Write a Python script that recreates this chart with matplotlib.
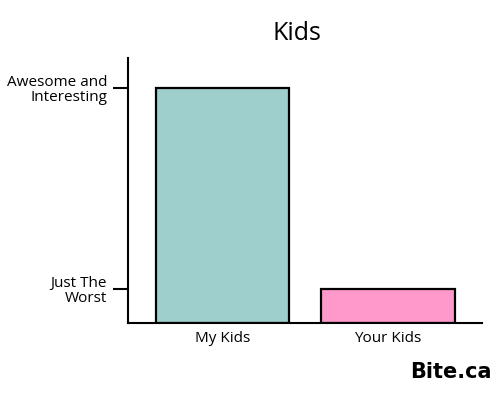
import matplotlib
matplotlib.use("Agg")
import matplotlib.pyplot as plt

categories = ["My Kids", "Your Kids"]
values = [100, 14.5]
ytick_values = [14.5, 100]
ytick_labels = ["Just The\nWorst", "Awesome and\nInteresting"]
colors = ["#9ECFCC", "#FF99CC"]

plt.rcParams['font.family'] = ['Open Sans', 'DejaVu Sans']

fig = plt.figure(figsize=(5, 3.95), dpi=100)
ax = fig.add_axes([0.256, 0.1823, 0.708, 0.6709])

x = list(range(len(categories)))
ax.bar(x, values, width=0.804, color=colors, edgecolor="black", linewidth=1.6, zorder=2)

ax.set_xlim(-0.571, 1.568)
ax.set_ylim(0, 112.8)

ax.set_xticks(x)
ax.set_xticklabels(categories, fontsize=11)
ax.tick_params(axis='x', length=0, pad=5.5)

ax.set_yticks(ytick_values)
ax.set_yticklabels(ytick_labels, fontsize=11, linespacing=1.0)
ax.tick_params(axis='y', length=11, width=1.5, pad=4)

for s in ["top", "right"]:
    ax.spines[s].set_visible(False)
for s in ["left", "bottom"]:
    ax.spines[s].set_linewidth(1.5)

fig.text(297/500, 1 - 33/395, "Kids", ha="center", va="center", fontsize=18)
fig.text(492/500, 1 - 372/395, "Bite.ca", ha="right", va="center", fontsize=15,
         fontweight="bold", family=["DejaVu Sans"])

fig.savefig("out.png", dpi=100)
